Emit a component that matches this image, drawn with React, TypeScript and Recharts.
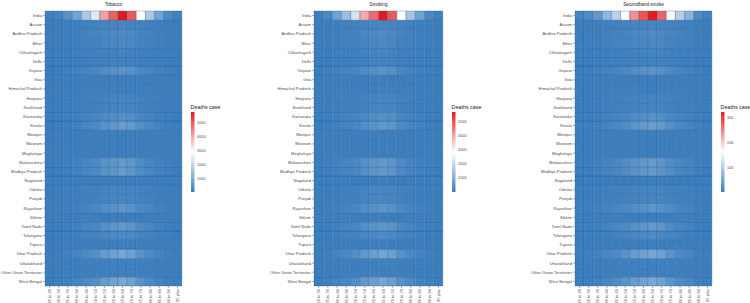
import React from 'react';

import { Bar, BarChart, Cell, XAxis, YAxis } from 'recharts';

const states = [
  'India', 'Assam', 'Andhra Pradesh', 'Bihar', 'Chhattisgarh', 'Delhi', 'Gujarat', 'Goa',
  'Himachal Pradesh', 'Haryana', 'Jharkhand', 'Karnataka', 'Kerala', 'Manipur', 'Mizoram',
  'Meghalaya', 'Maharashtra', 'Madhya Pradesh', 'Nagaland', 'Odisha', 'Punjab', 'Rajasthan',
  'Sikkim', 'Tamil Nadu', 'Telangana', 'Tripura', 'Uttar Pradesh', 'Uttarakhand',
  'Other Union Territories', 'West Bengal',
];

const tobaccoAges = [
  '25 to 29', '30 to 34', '35 to 39', '40 to 44', '45 to 49', '50 to 54', '55 to 59', '60 to 64',
  '65 to 69', '70 to 74', '75 to 79', '80 to 84', '85 to 89', '90 to 94', '95 plus',
];
const smokingAges = tobaccoAges.slice(1);
const secondhandAges = tobaccoAges;

// one row per state, same order as `states`
const tobaccoDeaths: number[][] = [
  [60, 130, 420, 850, 1650, 2430, 4100, 4900, 5790, 4990, 2900, 1680, 820, 260, 90],
  [2, 5, 14, 28, 52, 78, 130, 158, 180, 150, 88, 50, 24, 8, 3],
  [3, 7, 22, 44, 85, 125, 210, 250, 290, 250, 145, 84, 40, 13, 4],
  [3, 7, 20, 40, 75, 110, 185, 220, 255, 220, 130, 74, 36, 11, 4],
  [1, 3, 10, 20, 37, 55, 92, 110, 128, 110, 64, 37, 18, 6, 2],
  [1, 3, 8, 16, 30, 45, 75, 90, 105, 90, 52, 30, 15, 5, 2],
  [5, 11, 34, 68, 135, 200, 340, 410, 490, 420, 240, 140, 68, 21, 7],
  [0, 0, 1, 2, 4, 6, 10, 12, 14, 12, 7, 4, 2, 1, 0],
  [0, 1, 3, 7, 13, 20, 34, 40, 47, 40, 24, 14, 7, 2, 1],
  [1, 3, 11, 22, 42, 62, 105, 125, 148, 128, 74, 43, 21, 7, 2],
  [2, 4, 12, 24, 45, 67, 112, 134, 158, 136, 79, 46, 22, 7, 2],
  [4, 9, 29, 58, 115, 170, 285, 345, 410, 355, 205, 118, 58, 18, 6],
  [3, 8, 30, 70, 150, 250, 450, 580, 700, 620, 380, 220, 110, 36, 12],
  [0, 0, 1, 3, 5, 8, 13, 15, 18, 15, 9, 5, 3, 1, 0],
  [0, 0, 1, 2, 4, 6, 10, 12, 14, 12, 7, 4, 2, 1, 0],
  [0, 1, 2, 3, 6, 9, 15, 18, 21, 18, 10, 6, 3, 1, 0],
  [6, 14, 45, 90, 175, 260, 440, 530, 630, 545, 315, 182, 88, 28, 9],
  [6, 14, 44, 88, 170, 255, 430, 520, 620, 530, 305, 176, 86, 27, 9],
  [0, 0, 1, 2, 4, 6, 10, 12, 14, 12, 7, 4, 2, 1, 0],
  [2, 5, 14, 28, 54, 80, 135, 162, 190, 164, 95, 55, 27, 8, 3],
  [2, 4, 13, 27, 52, 78, 132, 160, 186, 160, 92, 54, 26, 8, 3],
  [5, 12, 37, 74, 145, 215, 365, 440, 520, 450, 260, 150, 72, 23, 8],
  [0, 0, 0, 1, 1, 2, 3, 4, 5, 4, 2, 1, 1, 0, 0],
  [5, 12, 38, 78, 155, 235, 410, 500, 600, 520, 300, 175, 85, 27, 9],
  [3, 7, 22, 42, 82, 120, 205, 245, 280, 240, 140, 80, 39, 12, 4],
  [0, 1, 3, 6, 11, 16, 27, 32, 38, 32, 19, 11, 5, 2, 1],
  [9, 20, 65, 130, 250, 370, 630, 760, 900, 775, 450, 260, 125, 40, 13],
  [1, 2, 5, 11, 21, 31, 53, 64, 76, 65, 38, 22, 11, 3, 1],
  [0, 1, 4, 8, 15, 22, 37, 44, 52, 45, 26, 15, 7, 2, 1],
  [8, 18, 60, 125, 245, 370, 640, 780, 940, 800, 460, 265, 128, 40, 13],
];

const smokingDeaths: number[][] = [
  [40, 230, 770, 1400, 2260, 3930, 4710, 5710, 4910, 2860, 1570, 770, 230, 60],
  [1, 7, 24, 44, 70, 122, 146, 178, 152, 88, 49, 24, 7, 2],
  [2, 11, 38, 70, 112, 196, 236, 286, 245, 142, 78, 38, 11, 3],
  [2, 9, 32, 58, 94, 163, 196, 238, 204, 119, 65, 32, 9, 2],
  [1, 5, 17, 31, 50, 87, 104, 126, 108, 63, 35, 17, 5, 1],
  [1, 4, 14, 25, 40, 70, 84, 102, 88, 51, 28, 14, 4, 1],
  [3, 18, 62, 112, 180, 315, 378, 460, 395, 230, 126, 62, 18, 5],
  [0, 1, 2, 3, 5, 9, 11, 13, 11, 6, 4, 2, 1, 0],
  [0, 2, 6, 11, 18, 32, 38, 46, 40, 23, 13, 6, 2, 0],
  [1, 6, 19, 35, 57, 99, 119, 145, 124, 72, 40, 19, 6, 1],
  [1, 6, 21, 38, 61, 106, 127, 155, 133, 77, 42, 21, 6, 2],
  [3, 15, 52, 95, 153, 266, 319, 388, 333, 194, 106, 52, 15, 4],
  [3, 18, 62, 118, 200, 360, 440, 560, 490, 290, 160, 80, 24, 6],
  [0, 1, 2, 4, 7, 12, 14, 17, 15, 9, 5, 2, 1, 0],
  [0, 1, 2, 3, 5, 9, 11, 13, 11, 6, 4, 2, 1, 0],
  [0, 1, 3, 5, 8, 14, 17, 20, 17, 10, 6, 3, 1, 0],
  [4, 24, 80, 146, 236, 410, 492, 598, 514, 300, 164, 80, 24, 6],
  [4, 23, 78, 142, 230, 400, 480, 585, 502, 292, 160, 78, 23, 6],
  [0, 1, 2, 3, 5, 9, 11, 13, 11, 6, 4, 2, 1, 0],
  [1, 7, 25, 46, 74, 128, 154, 187, 161, 94, 51, 25, 7, 2],
  [1, 7, 24, 44, 71, 123, 148, 180, 154, 90, 49, 24, 7, 2],
  [3, 19, 65, 118, 190, 330, 396, 482, 414, 241, 132, 65, 19, 5],
  [0, 0, 1, 1, 2, 3, 3, 4, 3, 2, 1, 1, 0, 0],
  [4, 21, 70, 128, 208, 362, 434, 528, 454, 265, 145, 71, 21, 5],
  [2, 11, 36, 66, 106, 185, 222, 270, 232, 135, 74, 36, 11, 3],
  [0, 1, 5, 9, 14, 25, 30, 36, 31, 18, 10, 5, 1, 0],
  [6, 34, 114, 208, 336, 584, 700, 850, 730, 425, 233, 115, 34, 9],
  [1, 3, 10, 18, 29, 50, 60, 73, 63, 36, 20, 10, 3, 1],
  [0, 2, 7, 12, 20, 34, 41, 50, 43, 25, 14, 7, 2, 0],
  [6, 34, 114, 210, 340, 590, 708, 860, 740, 430, 236, 116, 34, 9],
];

const secondhandDeaths: number[][] = [
  [8, 16, 33, 70, 104, 160, 238, 279, 320, 269, 165, 100, 66, 16, 5],
  [0.3, 0.5, 1, 2.2, 3.3, 5, 7.4, 8.7, 10, 8.4, 5.2, 3.1, 2.1, 0.5, 0.2],
  [0.4, 0.8, 1.6, 3.5, 5.2, 8, 11.8, 13.9, 16, 13.4, 8.3, 5, 3.4, 0.8, 0.3],
  [0.4, 0.7, 1.4, 3.1, 4.6, 7, 10.4, 12.2, 14, 11.8, 7.3, 4.3, 2.9, 0.7, 0.2],
  [0.2, 0.4, 0.7, 1.5, 2.3, 3.5, 5.2, 6.1, 7, 5.9, 3.6, 2.2, 1.5, 0.4, 0.1],
  [0.2, 0.3, 0.6, 1.3, 2, 3, 4.4, 5.2, 6, 5, 3.1, 1.9, 1.3, 0.3, 0.1],
  [0.7, 1.4, 2.7, 5.9, 8.8, 13.5, 20, 23.5, 27, 22.7, 14, 8.4, 5.7, 1.4, 0.4],
  [0, 0, 0.1, 0.2, 0.3, 0.4, 0.6, 0.7, 0.8, 0.7, 0.4, 0.2, 0.2, 0, 0],
  [0.1, 0.1, 0.3, 0.6, 0.8, 1.3, 1.9, 2.3, 2.6, 2.2, 1.4, 0.8, 0.5, 0.1, 0],
  [0.2, 0.4, 0.8, 1.8, 2.6, 4, 5.9, 7, 8, 6.7, 4.2, 2.5, 1.7, 0.4, 0.1],
  [0.2, 0.5, 0.9, 2, 2.9, 4.5, 6.7, 7.8, 9, 7.6, 4.7, 2.8, 1.9, 0.5, 0.1],
  [0.6, 1.2, 2.3, 5.1, 7.5, 11.5, 17, 20, 23, 19.3, 12, 7.1, 4.8, 1.2, 0.4],
  [0.8, 1.6, 3.4, 8, 12, 19, 28, 33, 38, 33, 21, 13, 9, 2.2, 0.7],
  [0, 0.1, 0.1, 0.2, 0.3, 0.5, 0.7, 0.9, 1, 0.8, 0.5, 0.3, 0.2, 0.1, 0],
  [0, 0, 0.1, 0.2, 0.3, 0.4, 0.6, 0.7, 0.8, 0.7, 0.4, 0.2, 0.2, 0, 0],
  [0, 0.1, 0.1, 0.3, 0.4, 0.6, 0.9, 1, 1.2, 1, 0.6, 0.4, 0.3, 0.1, 0],
  [0.9, 1.8, 3.5, 7.7, 11.4, 17.5, 26, 30.5, 35, 29.4, 18.2, 10.9, 7.4, 1.8, 0.6],
  [0.9, 1.7, 3.4, 7.5, 11, 17, 25.2, 29.6, 34, 28.6, 17.7, 10.5, 7.1, 1.7, 0.5],
  [0, 0, 0.1, 0.2, 0.3, 0.4, 0.6, 0.7, 0.8, 0.7, 0.4, 0.2, 0.2, 0, 0],
  [0.3, 0.5, 1.1, 2.3, 3.4, 5.3, 7.8, 9.1, 10.5, 8.8, 5.5, 3.3, 2.2, 0.5, 0.2],
  [0.2, 0.5, 1, 2.1, 3.2, 4.9, 7.3, 8.6, 9.8, 8.3, 5.1, 3, 2, 0.5, 0.2],
  [0.7, 1.5, 2.9, 6.4, 9.4, 14.5, 21.5, 25.2, 29, 24.4, 15.1, 9, 6.1, 1.5, 0.5],
  [0, 0, 0, 0.1, 0.1, 0.2, 0.2, 0.3, 0.3, 0.3, 0.2, 0.1, 0.1, 0, 0],
  [0.8, 1.7, 3.3, 7.3, 10.7, 16.5, 24.4, 28.7, 33, 27.7, 17.2, 10.2, 6.9, 1.7, 0.5],
  [0.4, 0.8, 1.6, 3.4, 5, 7.8, 11.5, 13.5, 15.5, 13, 8.1, 4.8, 3.3, 0.8, 0.2],
  [0.1, 0.1, 0.2, 0.5, 0.7, 1.1, 1.6, 1.8, 2.1, 1.8, 1.1, 0.7, 0.4, 0.1, 0],
  [1.3, 2.5, 5, 11, 16.3, 25, 37, 43.5, 50, 42, 26, 15.5, 10.5, 2.5, 0.8],
  [0.1, 0.2, 0.4, 0.9, 1.4, 2.1, 3.1, 3.7, 4.2, 3.5, 2.2, 1.3, 0.9, 0.2, 0.1],
  [0.1, 0.1, 0.3, 0.6, 0.9, 1.5, 2.1, 2.5, 2.9, 2.4, 1.5, 0.9, 0.6, 0.1, 0],
  [1.3, 2.6, 5.2, 11.4, 16.9, 26, 38.5, 45.2, 52, 43.7, 27, 16.1, 10.9, 2.6, 0.8],
];

const tobaccoTicks = [1000, 2000, 3000, 4000, 5000];
const smokingTicks = [1000, 2000, 3000, 4000, 5000];
const secondhandTicks = [100, 200, 300];

const LOW = [58, 126, 192];
const MID = [255, 255, 255];
const HIGH = [228, 26, 28];
const FONT = '"Liberation Sans", Arial, sans-serif';
const TOP = 11;
const PLOT_BOTTOM = 286;
const BAR_TOP = 112;
const BAR_BOTTOM = 192;

const mix = (a: number[], b: number[], t: number) =>
  `rgb(${a.map((c, i) => Math.round(c + (b[i] - c) * t)).join(',')})`;

const fillFor = (v: number, min: number, max: number) => {
  const t = (v - min) / (max - min);
  return t < 0.5 ? mix(LOW, MID, t * 2) : mix(MID, HIGH, (t - 0.5) * 2);
};

const AgeTick = (props: any) => {
  const { x, y, payload } = props;
  return (
    <text
      x={x}
      y={y}
      transform={`rotate(-90 ${x} ${y})`}
      textAnchor="end"
      dominantBaseline="central"
      fontSize={4}
      fill="#4d4d4d"
      fontFamily={FONT}
    >
      {payload.value}
    </text>
  );
};

const StateTick = (props: any) => {
  const { x, y, payload } = props;
  const name = states[states.length - 1 - Math.floor(payload.value)];
  return (
    <text
      x={x}
      y={y}
      textAnchor="end"
      dominantBaseline="central"
      fontSize={4.1}
      fill="#4d4d4d"
      fontFamily={FONT}
    >
      {name}
    </text>
  );
};

type HeatmapProps = {
  id: string;
  title: string;
  ages: string[];
  values: number[][];
  ticks: number[];
  left: number;
  width: number;
  yWidth: number;
  legendX: number;
};

const Heatmap = ({ id, title, ages, values, ticks, left, width, yWidth, legendX }: HeatmapProps) => {
  const flat = values.flat();
  const min = Math.min(...flat);
  const max = Math.max(...flat);
  const rows = ages.map((age) => {
    const r: Record<string, string | number> = { age };
    states.forEach((_, j) => (r[`s${j}`] = 1));
    return r;
  });
  // first bar of a stack is drawn at the bottom
  const order = states.map((_, j) => states.length - 1 - j);
  const plotCenter = left + yWidth + (width - yWidth - 3) / 2;
  const yFor = (v: number) => BAR_TOP + ((max - v) / (max - min)) * (BAR_BOTTOM - BAR_TOP);

  return (
    <>
      <div style={{ position: 'absolute', left, top: 0, width, height: 303 }}>
        <BarChart
          width={width}
          height={303}
          data={rows}
          margin={{ top: TOP, right: 3, bottom: 0, left: 0 }}
          barCategoryGap={0}
          barGap={0}
        >
          <XAxis
            dataKey="age"
            height={303 - PLOT_BOTTOM}
            interval={0}
            tickSize={2}
            tickMargin={1}
            axisLine={false}
            tickLine={{ stroke: '#555', strokeWidth: 0.5 }}
            tick={<AgeTick />}
          />
          <YAxis
            type="number"
            domain={[0, states.length]}
            ticks={states.map((_, j) => j + 0.5)}
            interval={0}
            width={yWidth}
            tickSize={2}
            tickMargin={1}
            axisLine={false}
            tickLine={{ stroke: '#555', strokeWidth: 0.5 }}
            tick={<StateTick />}
          />
          {order.map((j) => (
            <Bar
              key={j}
              dataKey={`s${j}`}
              stackId="a"
              isAnimationActive={false}
              stroke="#23507d"
              strokeWidth={0.4}
              strokeOpacity={0.75}
            >
              {ages.map((_, i) => (
                <Cell key={i} fill={fillFor(values[j][i], min, max)} />
              ))}
            </Bar>
          ))}
        </BarChart>
      </div>
      <svg
        width={750}
        height={303}
        style={{ position: 'absolute', left: 0, top: 0, pointerEvents: 'none' }}
      >
        <defs>
          <linearGradient id={`grad-${id}`} x1="0" y1="0" x2="0" y2="1">
            <stop offset="0%" stopColor={mix(HIGH, HIGH, 0)} />
            <stop offset="50%" stopColor={mix(MID, MID, 0)} />
            <stop offset="100%" stopColor={mix(LOW, LOW, 0)} />
          </linearGradient>
        </defs>
        <text x={plotCenter} y={6} textAnchor="middle" fontSize={4.6} fill="#222" fontFamily={FONT}>
          {title}
        </text>
        <text x={legendX - 0.5} y={109} fontSize={5.4} fill="#222" fontFamily={FONT}>
          Deaths case
        </text>
        <rect
          x={legendX}
          y={BAR_TOP}
          width={3.5}
          height={BAR_BOTTOM - BAR_TOP}
          fill={`url(#grad-${id})`}
        />
        {ticks.map((t) => (
          <g key={t}>
            <line x1={legendX} x2={legendX + 0.8} y1={yFor(t)} y2={yFor(t)} stroke="#fff" strokeWidth={0.4} />
            <line x1={legendX + 2.7} x2={legendX + 3.5} y1={yFor(t)} y2={yFor(t)} stroke="#fff" strokeWidth={0.4} />
            <text
              x={legendX + 6}
              y={yFor(t)}
              dominantBaseline="central"
              fontSize={3.9}
              fill="#4d4d4d"
              fontFamily={FONT}
            >
              {t}
            </text>
          </g>
        ))}
      </svg>
    </>
  );
};

export default function App() {
  return (
    <div style={{ position: 'absolute', left: 0, top: 0, width: 750, height: 303, background: '#fff' }}>
      <Heatmap
        id="tobacco"
        title="Tobacco"
        ages={tobaccoAges}
        values={tobaccoDeaths}
        ticks={tobaccoTicks}
        left={0}
        width={185}
        yWidth={45}
        legendX={191}
      />
      <Heatmap
        id="smoking"
        title="Smoking"
        ages={smokingAges}
        values={smokingDeaths}
        ticks={smokingTicks}
        left={250}
        width={196}
        yWidth={64}
        legendX={452}
      />
      <Heatmap
        id="secondhand"
        title="Secondhand smoke"
        ages={secondhandAges}
        values={secondhandDeaths}
        ticks={secondhandTicks}
        left={520}
        width={195}
        yWidth={55}
        legendX={721}
      />
    </div>
  );
}
